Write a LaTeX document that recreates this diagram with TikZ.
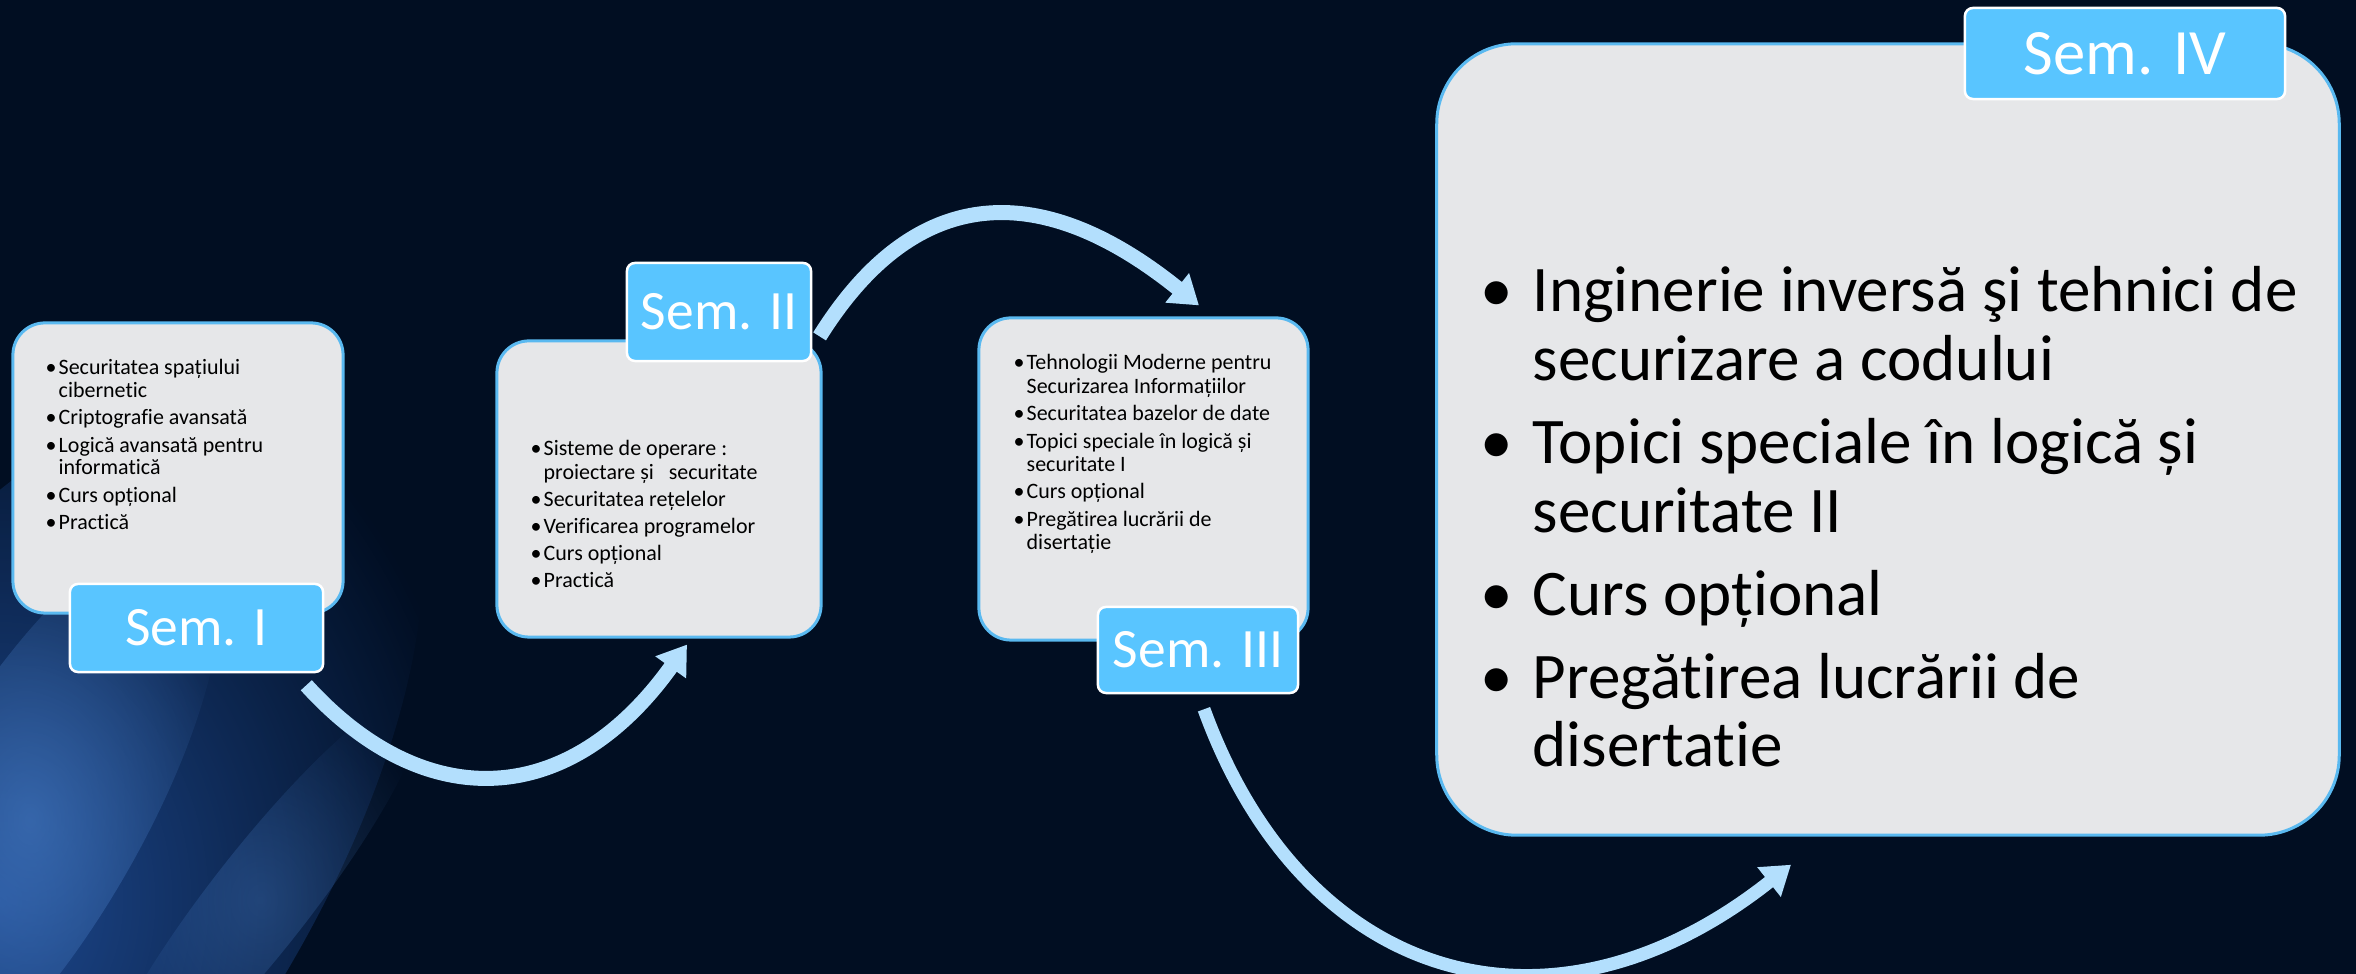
\documentclass[tikz,border=0pt]{standalone}
\usepackage{fontspec}
\setmainfont{Carlito}[Ligatures=NoCommon]
\usetikzlibrary{arrows.meta,fadings}

\definecolor{bgnavy}{HTML}{010E22}
\definecolor{glowdeep}{HTML}{2456A8}
\definecolor{glowlight}{HTML}{4E86D0}
\definecolor{boxgray}{HTML}{E6E7E9}
\definecolor{boxline}{HTML}{5AB9F0}
\definecolor{tagblue}{HTML}{59C5FF}
\definecolor{arrowblue}{HTML}{B3DFFD}

\tikzfading[name=glowfade, inner color=transparent!0, outer color=transparent!100]

\tikzset{
  sembox/.style={fill=boxgray, draw=boxline, line width=0.03cm, rounded corners=0.32cm},
  semtag/.style={fill=tagblue, draw=white, line width=0.025cm, rounded corners=0.08cm,
    text=white, inner sep=0pt, font=\fontsize{15.8}{17}\selectfont},
  flow/.style={draw=arrowblue, line width=0.15cm, -{Triangle[length=0.28cm,width=0.36cm]}},
  smalllist/.style={anchor=base west, inner sep=0pt, align=left, text=black},
}
\newcommand{\bul}{\llap{\textbullet\hspace{0.1em}}}
\newcommand{\bigbul}{\llap{\textbullet\hspace{0.3em}}}

\begin{document}
\begin{tikzpicture}[x=0.01cm,y=-0.01cm]
\useasboundingbox (0,0) rectangle (2356,974);
% background
\fill[bgnavy] (0,0) rectangle (2356,974);
\fill[glowdeep, opacity=0.8, path fading=glowfade, rotate around={55:(0,900)}] (0,900) ellipse [x radius=620, y radius=280];
\fill[glowlight, opacity=0.55, path fading=glowfade, rotate around={60:(30,820)}] (30,820) ellipse [x radius=330, y radius=110];
\fill[glowlight, opacity=0.3, path fading=glowfade, rotate around={52:(260,900)}] (260,900) ellipse [x radius=260, y radius=50];

% boxes
\node[sembox, minimum width=3.3cm, minimum height=2.9cm] (boxI) at (178,468) {};
\node[sembox, minimum width=3.24cm, minimum height=2.96cm] (boxII) at (659,489) {};
\node[sembox, minimum width=3.29cm, minimum height=3.22cm] (boxIII) at (1143.5,479) {};
\node[sembox, rounded corners=0.8cm, minimum width=9.02cm, minimum height=7.91cm] (boxIV) at (1888,439.5) {};

% course lists (anchored at the last line)
\node[smalllist, font=\fontsize{6.25}{6.35}\selectfont] (listI) at (58,530)
  {\bul Securitatea spațiului\\ cibernetic\\[1.5pt]
   \bul Criptografie avansată\\[1.5pt]
   \bul Logică avansată pentru\\ informatică\\[1.5pt]
   \bul Curs opțional\\[1.5pt]
   \bul Practică};
\node[smalllist, font=\fontsize{6.25}{6.9}\selectfont] (listII) at (543,588)
  {\bul Sisteme de operare :\\ proiectare și\ \ \ securitate\\[0.8pt]
   \bul Securitatea rețelelor\\[0.8pt]
   \bul Verificarea programelor\\[0.8pt]
   \bul Curs opțional\\[0.8pt]
   \bul Practică};
\node[smalllist, font=\fontsize{6.25}{6.75}\selectfont] (listIII) at (1026,550)
  {\bul Tehnologii Moderne pentru\\ Securizarea Informațiilor\\[1pt]
   \bul Securitatea bazelor de date\\[1pt]
   \bul Topici speciale în logică și\\ securitate I\\[1pt]
   \bul Curs opțional\\[1pt]
   \bul Pregătirea lucrării de\\ disertație};
\node[smalllist, font=\fontsize{18.5}{19.6}\selectfont] (listIV) at (1532,767)
  {\bigbul Inginerie inversă şi tehnici de\\ securizare a codului\\[4pt]
   \bigbul Topici speciale în logică și\\ securitate II\\[4pt]
   \bigbul Curs opțional\\[4pt]
   \bigbul Pregătirea lucrării de\\ disertatie};

% semester tags
\node[semtag, minimum width=2.53cm, minimum height=0.88cm] (semI) at (196.5,628) {Sem. I};
\node[semtag, minimum width=1.84cm, minimum height=0.98cm] (semII) at (719,312) {Sem. II};
\node[semtag, minimum width=2.0cm, minimum height=0.86cm] (semIII) at (1198,650) {Sem. III};
\node[semtag, minimum width=3.2cm, minimum height=0.91cm, font=\fontsize{18.4}{20}\selectfont] (semIV) at (2125,53.5) {Sem. IV};

% arrow ends
\coordinate (flowIa) at ([shift={(-18,12)}]semI.south east);
\coordinate (flowIb) at ([shift={(28,6)}]boxII.south);
\coordinate (flowIIa) at ([shift={(-3,-3)}]boxII.north east);
\coordinate (flowIIb) at ([shift={(55.5,-11)}]boxIII.north);
\coordinate (flowIIIa) at ([shift={(6,15)}]semIII.south);
\coordinate (flowIIIb) at ([shift={(-97,28)}]boxIV.south);

% arrows
\draw[flow] (flowIa) .. controls +(118,130) and +(-118,165) .. (flowIb);
\draw[flow] (flowIIa) .. controls +(125,-200) and +(-102,-82) .. (flowIIb);
\draw[flow, line width=0.13cm] (flowIIIa) .. controls +(100,275) and +(-240,190) .. (flowIIIb);
\end{tikzpicture}
\end{document}
